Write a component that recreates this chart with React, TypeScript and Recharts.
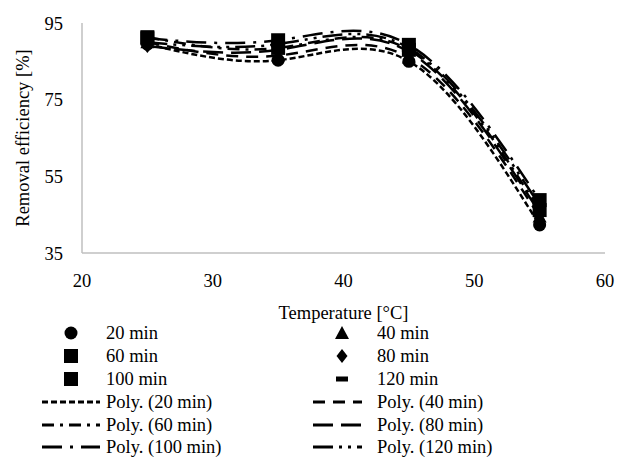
import React from 'react';
import { ComposedChart, Line, XAxis, YAxis } from 'recharts';

const temps = [25, 35, 45, 55];
const seriesNames = ['20 min', '40 min', '60 min', '80 min', '100 min', '120 min'];
const eff20 = [89.5, 85.3, 85.0, 42.3];
const eff40 = [90.0, 86.5, 86.0, 44.5];
const eff60 = [91.3, 88.5, 88.0, 46.2];
const eff80 = [89.0, 88.0, 87.5, 45.5];
const eff100 = [91.0, 90.5, 89.3, 48.8];
const eff120 = [90.0, 89.5, 88.5, 47.5];
const xTicks = [20, 30, 40, 50, 60];
const yTicks = [35, 55, 75, 95];

const seriesValues = [eff20, eff40, eff60, eff80, eff100, eff120];
const keys = ['s20', 's40', 's60', 's80', 's100', 's120'];

const data = temps.map((t, i) => {
  const row: Record<string, number> = { t };
  keys.forEach((k, j) => {
    row[k] = seriesValues[j][i];
  });
  return row;
});

const FONT = '"Liberation Serif", "Times New Roman", Times, serif';
const FS = 18.5;
const INK = '#000';

const markers = ['circle', 'triangle', 'square', 'diamond', 'square', 'dash'];
const dashes = ['6 3', '12 8', '12 6 3 6', '20 8', '20 8 3 8', '20 6 3 6 3 6'];

const Marker = ({ kind, cx, cy }: { kind: string; cx: number; cy: number }) => {
  if (kind === 'circle') return <circle cx={cx} cy={cy} r={6.5} fill={INK} />;
  if (kind === 'square') return <rect x={cx - 7} y={cy - 7} width={14} height={14} fill={INK} />;
  if (kind === 'triangle')
    return <path d={`M${cx},${cy - 7} L${cx + 7},${cy + 6} L${cx - 7},${cy + 6} Z`} fill={INK} />;
  if (kind === 'diamond')
    return <path d={`M${cx},${cy - 7} L${cx + 5.5},${cy} L${cx},${cy + 7} L${cx - 5.5},${cy} Z`} fill={INK} />;
  return <rect x={cx - 6} y={cy - 2.5} width={12} height={5} fill={INK} />;
};

const legendRows = [333, 356, 379];
const polyRows = [402, 425, 447];

const Legend = () => (
  <svg
    width={621}
    height={457}
    style={{ position: 'absolute', left: 0, top: 0, pointerEvents: 'none' }}
  >
    {seriesNames.map((name, i) => {
      const col = i % 2;
      const row = Math.floor(i / 2);
      const mx = col === 0 ? 71 : 342;
      const tx = col === 0 ? 106 : 377;
      const y = legendRows[row];
      return (
        <g key={name}>
          <Marker kind={markers[i]} cx={mx} cy={y} />
          <text x={tx} y={y + 6} fontFamily={FONT} fontSize={FS} fill={INK}>
            {name}
          </text>
        </g>
      );
    })}
    {seriesNames.map((name, i) => {
      const col = i % 2;
      const row = Math.floor(i / 2);
      const x1 = col === 0 ? 42 : 313;
      const x2 = col === 0 ? 100 : 362;
      const tx = col === 0 ? 106 : 377;
      const y = polyRows[row];
      return (
        <g key={'p' + name}>
          <line x1={x1} x2={x2} y1={y} y2={y} stroke={INK} strokeWidth={3} strokeDasharray={dashes[i]} />
          <text x={tx} y={y + 6} fontFamily={FONT} fontSize={FS} fill={INK}>
            {`Poly. (${name})`}
          </text>
        </g>
      );
    })}
  </svg>
);

export default function App() {
  return (
    <div style={{ position: 'relative', width: 621, height: 457, background: '#fff' }}>
      <style>{'body{margin:0}'}</style>
      <ComposedChart
        width={621}
        height={457}
        data={data}
        margin={{ top: 23, right: 16, left: 0, bottom: 134 }}
      >
        <XAxis
          dataKey="t"
          type="number"
          domain={[20, 60]}
          ticks={xTicks}
          tickLine={false}
          tickSize={0}
          tickMargin={21}
          height={70}
          axisLine={{ stroke: '#bfbfbf', strokeWidth: 1.5 }}
          tick={{ fill: INK, fontFamily: FONT, fontSize: FS }}
          label={{
            value: 'Temperature [°C]',
            position: 'insideBottom',
            offset: 4,
            style: { fill: INK, fontFamily: FONT, fontSize: FS },
          }}
        />
        <YAxis
          domain={[35, 95]}
          ticks={yTicks}
          tickLine={false}
          tickSize={0}
          tickMargin={19}
          width={82}
          axisLine={{ stroke: '#bfbfbf', strokeWidth: 1.5 }}
          tick={{ fill: INK, fontFamily: FONT, fontSize: FS }}
          label={{
            value: 'Removal efficiency [%]',
            angle: -90,
            position: 'insideLeft',
            offset: 22,
            style: { fill: INK, fontFamily: FONT, fontSize: FS, textAnchor: 'middle' },
          }}
        />
        {keys.map((k, i) => (
          <Line
            key={'poly' + k}
            dataKey={k}
            type="natural"
            stroke={INK}
            strokeWidth={2.5}
            strokeDasharray={dashes[i]}
            dot={false}
            activeDot={false}
            isAnimationActive={false}
          />
        ))}
        {keys.map((k, i) => (
          <Line
            key={'pts' + k}
            dataKey={k}
            stroke="none"
            dot={(p: any) => <Marker key={p.index} kind={markers[i]} cx={p.cx} cy={p.cy} />}
            activeDot={false}
            isAnimationActive={false}
          />
        ))}
      </ComposedChart>
      <Legend />
    </div>
  );
}
